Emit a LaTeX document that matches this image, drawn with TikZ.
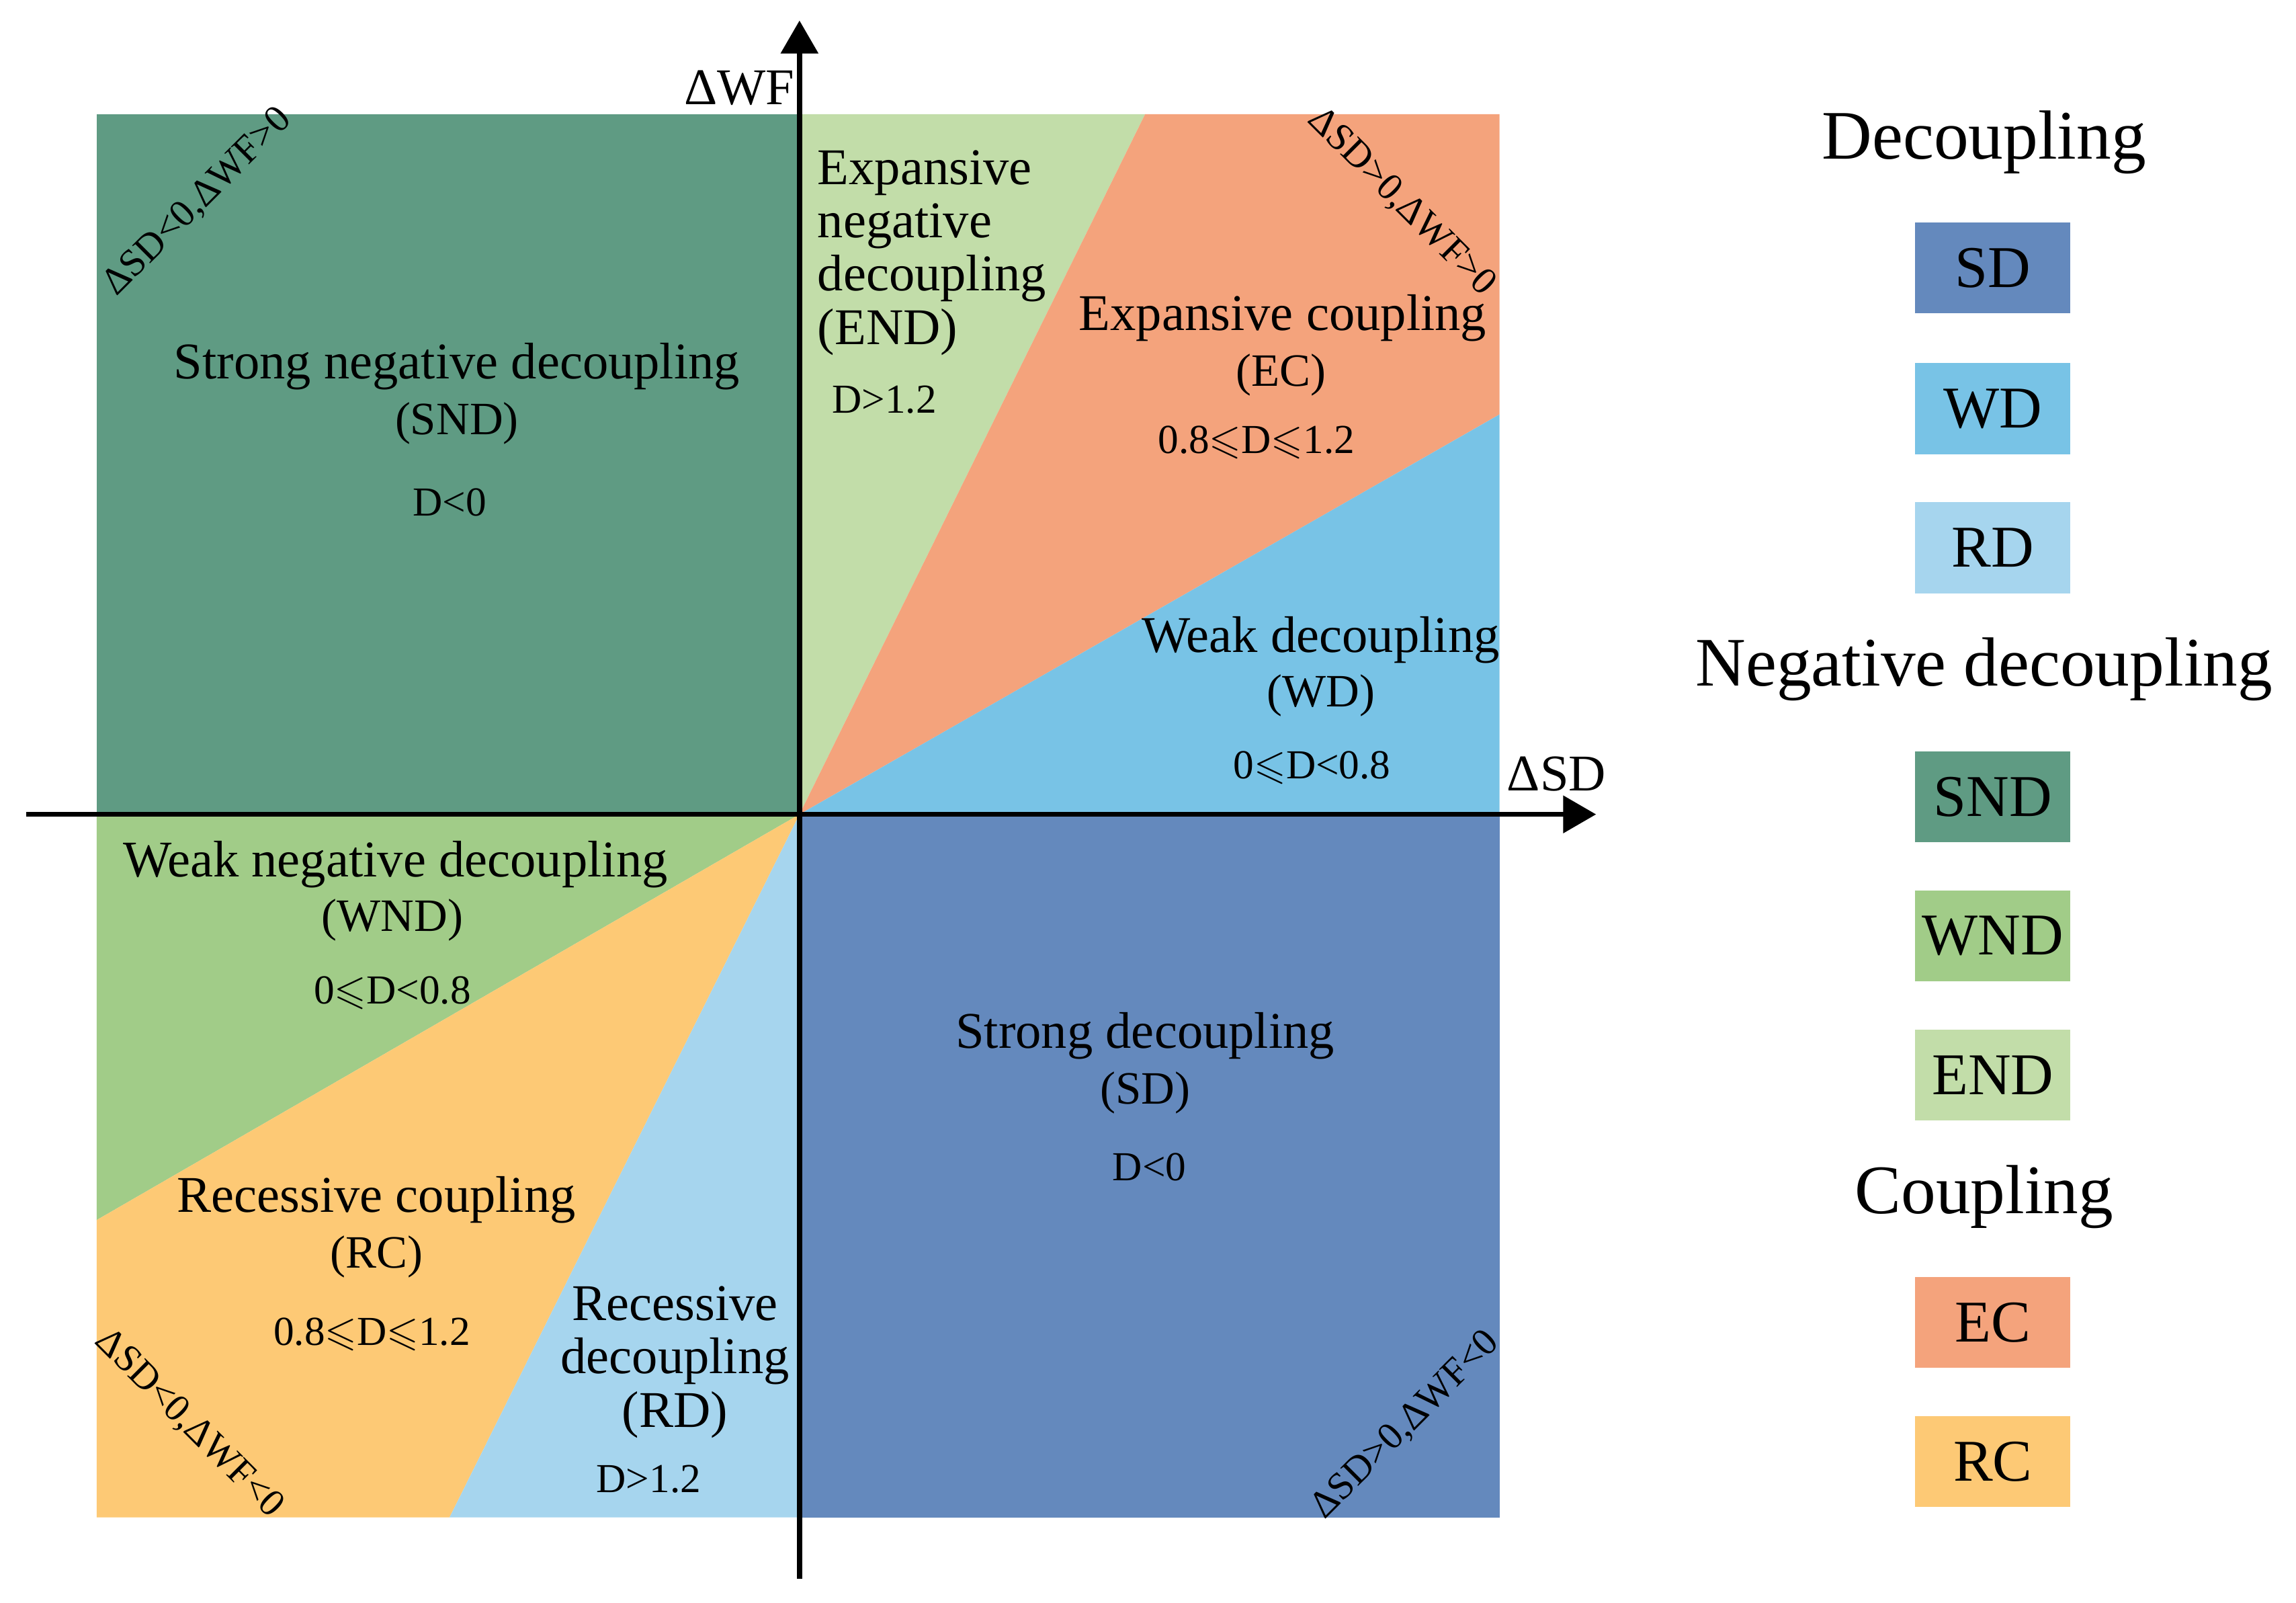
\documentclass[tikz,border=0pt]{standalone}
\usepackage{fontspec}
\setmainfont{Liberation Serif}
\usepackage{amssymb}
\usetikzlibrary{arrows.meta}
\definecolor{colSD}{HTML}{6489BD}
\definecolor{colWD}{HTML}{78C3E6}
\definecolor{colRD}{HTML}{A6D5EE}
\definecolor{colSND}{HTML}{5F9B83}
\definecolor{colWND}{HTML}{A1CC88}
\definecolor{colEND}{HTML}{C2DDA9}
\definecolor{colEC}{HTML}{F4A37C}
\definecolor{colRC}{HTML}{FDC975}
\newcommand{\lsl}{\ensuremath{\leqslant}}
\tikzset{
  lbltitle/.style={font=\fontsize{20}{20.7}\selectfont, inner sep=0pt},
  lblabbr/.style={font=\fontsize{18}{20}\selectfont, inner sep=0pt},
  lblcond/.style={font=\fontsize{16}{19}\selectfont, inner sep=0pt},
  lblcorner/.style={font=\fontsize{15}{17}\selectfont, inner sep=0pt},
  lgdhead/.style={font=\fontsize{27}{30}\selectfont, inner sep=0pt},
  lgdbox/.style={minimum width=2.12cm, minimum height=1.24cm, inner sep=0pt,
    font=\fontsize{23}{26}\selectfont},
  axis/.style={line width=2pt, -{Triangle[length=0.45cm,width=0.5cm]}}
}
\begin{document}
\begin{tikzpicture}
  \def\xl{-9.6} \def\xr{9.56} \def\yt{9.56} \def\yb{-9.6}
  \useasboundingbox (-10.92,-10.76) rectangle (20.44,11.12);
  % sectors
  \fill[colSND] (\xl,0) rectangle (0,\yt);
  \fill[colSD] (0,0) rectangle (\xr,\yb);
  \fill[colEND] (0,0)--(0,\yt)--(4.72,\yt)--cycle;
  \fill[colEC] (0,0)--(4.72,\yt)--(\xr,\yt)--(\xr,5.46)--cycle;
  \fill[colWD] (0,0)--(\xr,5.46)--(\xr,0)--cycle;
  \fill[colWND] (0,0)--(\xl,0)--(\xl,-5.54)--cycle;
  \fill[colRC] (0,0)--(\xl,-5.54)--(\xl,\yb)--(-4.78,\yb)--cycle;
  \fill[colRD] (0,0)--(-4.78,\yb)--(0,\yb)--cycle;
  % axes
  \coordinate (xs) at (-10.56,0); \coordinate (xe) at (10.88,0);
  \coordinate (ys) at (0,-10.44); \coordinate (ye) at (0,10.84);
  \draw[axis] (xs)--(xe);
  \draw[axis] (ys)--(ye);
  \node[lbltitle] (asd) at (10.34,0.55) {ΔSD};
  \node[lbltitle] (awf) at (-0.82,9.92) {ΔWF};
  % region labels
  \node[lbltitle] (snd1) at (-4.68,6.12) {Strong negative decoupling};
  \node[lblabbr] (snd2) at (-4.68,5.34) {(SND)};
  \node[lblcond] (snd3) at (-4.78,4.26) {D<0};
  \node[lbltitle, anchor=west, align=left] (end1) at (0.24,7.67) {Expansive\\negative\\decoupling\\(END)};
  \node[lblcond] (end3) at (1.16,5.66) {D>1.2};
  \node[lbltitle] (ec1) at (6.6,6.78) {Expansive coupling};
  \node[lblabbr] (ec2) at (6.58,6.0) {(EC)};
  \node[lblcond] (ec3) at (6.24,5.08) {0.8\lsl D\lsl 1.2};
  \node[lbltitle] (wd1) at (7.12,2.38) {Weak decoupling};
  \node[lblabbr] (wd2) at (7.12,1.62) {(WD)};
  \node[lblcond] (wd3) at (7.0,0.64) {0\lsl D<0.8};
  \node[lbltitle] (wnd1) at (-5.52,-0.68) {Weak negative decoupling};
  \node[lblabbr] (wnd2) at (-5.56,-1.44) {(WND)};
  \node[lblcond] (wnd3) at (-5.56,-2.44) {0\lsl D<0.8};
  \node[lbltitle] (rc1) at (-5.78,-5.26) {Recessive coupling};
  \node[lblabbr] (rc2) at (-5.78,-6.04) {(RC)};
  \node[lblcond] (rc3) at (-5.84,-7.1) {0.8\lsl D\lsl 1.2};
  \node[lbltitle, align=center] (rd1) at (-1.7,-7.48) {Recessive\\decoupling\\(RD)};
  \node[lblcond] (rd3) at (-2.06,-9.08) {D>1.2};
  \node[lbltitle] (sd1) at (4.72,-3.02) {Strong decoupling};
  \node[lblabbr] (sd2) at (4.72,-3.8) {(SD)};
  \node[lblcond] (sd3) at (4.78,-4.82) {D<0};
  % corner signs
  \node[lblcorner, rotate=45] (cnw) at (-8.22,8.36) {ΔSD<0,ΔWF>0};
  \node[lblcorner, rotate=-45] (cne) at (8.22,8.36) {ΔSD>0,ΔWF>0};
  \node[lblcorner, rotate=-45] (csw) at (-8.34,-8.32) {ΔSD<0,ΔWF<0};
  \node[lblcorner, rotate=45] (cse) at (8.28,-8.34) {ΔSD>0,ΔWF<0};
  % legend
  \node[lgdhead] (hdec) at (16.18,9.18) {Decoupling};
  \node[lgdhead] (hneg) at (16.18,1.98) {Negative decoupling};
  \node[lgdhead] (hcou) at (16.18,-5.22) {Coupling};
  \foreach \n/\y in {SD/7.46, WD/5.54, RD/3.64, SND/0.24, WND/-1.66, END/-3.56, EC/-6.94, RC/-8.84}
    \node[lgdbox, fill=col\n] (key\n) at (16.3,\y) {\n};
\end{tikzpicture}
\end{document}
